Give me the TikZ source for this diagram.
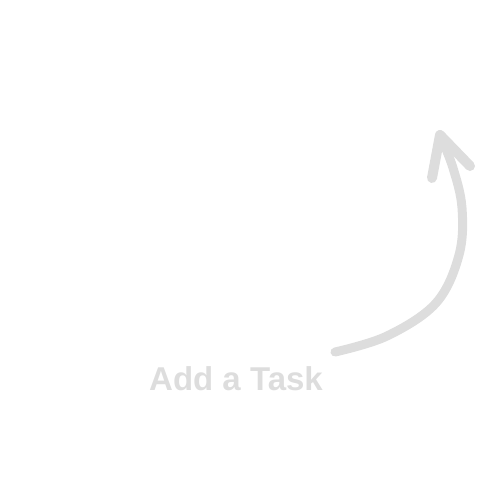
\documentclass[tikz,border=0pt]{standalone}
\usepackage{fontspec}
\setmainfont{Liberation Sans}
\definecolor{hint}{RGB}{221,221,221}
\begin{document}
\begin{tikzpicture}[x=1pt,y=-1pt,
  stroke/.style={draw=hint,line width=9pt,line cap=round,line join=round},
  label/.style={text=hint,font=\fontsize{33}{33}\selectfont\bfseries,inner sep=0pt,anchor=base west}]
\useasboundingbox (0,0) rectangle (500,500);
\node[label] (t) at (149,390) {Add a Task};
\coordinate (tip) at (440,135);
\draw[stroke] plot[smooth,tension=0.6] coordinates {(335,352) (387,336) (436,303) (459,255) (462,208) (453,168) (440,135)};
\draw[stroke,line width=10pt] (432,178) -- (tip) -- (470,166);
\end{tikzpicture}
\end{document}
